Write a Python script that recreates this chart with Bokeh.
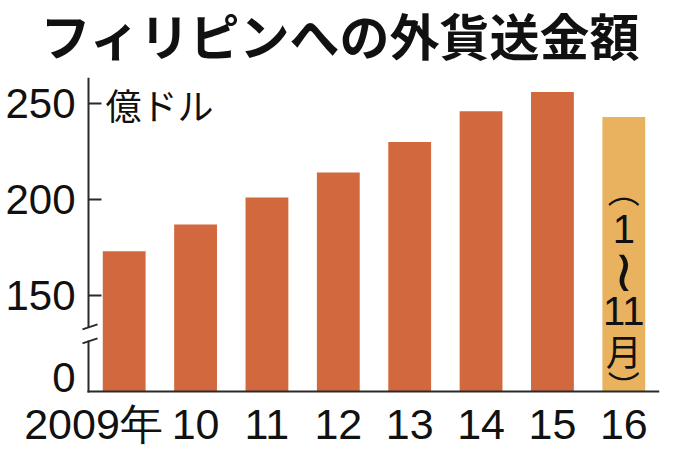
from bokeh.plotting import figure
from bokeh.models import Range1d, FixedTicker, ColumnDataSource, Label
from bokeh.embed import file_html
from bokeh.resources import INLINE

# ---------------- data ----------------
title = "フィリピンへの外貨送金額"
unit_label = "億ドル"
years = [2009, 2010, 2011, 2012, 2013, 2014, 2015, 2016]
remittance = [173, 187, 201, 214, 230, 246, 256, 243]   # 億ドル
partial_year = [False, False, False, False, False, False, False, True]  # 2016 = 1~11月
partial_note = ["︵", "1", "≀", "11", "月", "︶"]     # (1~11月) written vertically
y_ticks = [150, 200, 250]
zero_label = "0"

# ---------------- layout / style ----------------
W, H = 680, 464
FRAME_L, FRAME_R, FRAME_T, FRAME_B = 78, 659, 77, 395
PX_PER_CAT = 71.375
PX_PER_UNIT = 1.92
AXIS_PAD = 10      # px between frame edge and the drawn y axis
BASE_PAD = 4       # px between the baseline and the frame bottom
BASE = 100         # where the broken axis draws value 0
BREAK_AT = 130
DARK = "#D2683E"
LIGHT = "#E9B25E"
AX = "#2a2a2a"
TXT = "#111111"
LAT = "Liberation Sans"
CJK = "Noto Sans CJK JP"
DJV = "DejaVu Sans"

n = len(years)
AX_X = -0.5
x_start = AX_X - AXIS_PAD / PX_PER_CAT
y_start = BASE - BASE_PAD / PX_PER_UNIT
y_end = y_start + (FRAME_B - FRAME_T) / PX_PER_UNIT
px_x = 1 / PX_PER_CAT
px_y = 1 / PX_PER_UNIT

p = figure(width=W, height=H, output_backend="svg", toolbar_location=None,
           x_range=Range1d(x_start, n - 0.5), y_range=Range1d(y_start, y_end),
           min_border_left=FRAME_L, min_border_right=W - FRAME_R,
           min_border_top=FRAME_T, min_border_bottom=H - FRAME_B)
p.outline_line_color = None
p.grid.visible = False
p.background_fill_color = "white"
p.border_fill_color = "white"

# title
p.title.text = title
p.title.text_font = f"{LAT}, {CJK}"
p.title.text_font_size = "50px"
p.title.text_font_style = "bold"
p.title.text_color = TXT
p.title.align = "left"
p.title.vertical_align = "top"
p.title.offset = -38
p.title.standoff = 18

# bars
src = ColumnDataSource(dict(
    x=list(range(n)), top=remittance,
    color=[LIGHT if f else DARK for f in partial_year]))
p.vbar(x="x", top="top", bottom=BASE, width=0.6, fill_color="color",
       line_color=None, source=src)

# y axis: labels from Bokeh's axis, line/ticks drawn in the frame
zero_tick = round(BASE + 14 * px_y, 2)
ya = p.yaxis[0]
ya.ticker = FixedTicker(ticks=[zero_tick] + y_ticks)
ya.major_label_overrides = {zero_tick: zero_label}
ya.axis_line_color = None
ya.major_tick_line_color = None
ya.minor_tick_line_color = None
ya.major_tick_in = 0
ya.major_tick_out = 0
ya.major_label_standoff = 3
ya.major_label_text_font = LAT
ya.major_label_text_font_size = "42px"
ya.major_label_text_color = TXT

# x axis: labels only
first_shift = round(-31 * px_x, 2)
xticks = [first_shift] + list(range(1, n))
xa = p.xaxis[0]
xa.ticker = FixedTicker(ticks=xticks)
xa.major_label_overrides = {t: (f"{yr}年" if i == 0 else f"{yr % 100:02d}")
                            for i, (t, yr) in enumerate(zip(xticks, years))}
xa.axis_line_color = None
xa.major_tick_line_color = None
xa.minor_tick_line_color = None
xa.major_tick_in = 0
xa.major_tick_out = 0
xa.major_label_standoff = 4
xa.major_label_text_font = LAT
xa.major_label_text_font_size = "43px"
xa.major_label_text_color = TXT

# drawn axis lines with break
gap = 6.5 * px_y
p.segment(x0=[AX_X, AX_X], x1=[AX_X, AX_X],
          y0=[BASE - px_y, BREAK_AT + gap], y1=[BREAK_AT - gap, y_end],
          line_color=AX, line_width=2)
p.segment(x0=[AX_X - px_x], x1=[n - 0.5], y0=[BASE], y1=[BASE],
          line_color=AX, line_width=2)
p.segment(x0=[AX_X] * len(y_ticks), x1=[AX_X + 13 * px_x] * len(y_ticks),
          y0=y_ticks, y1=y_ticks, line_color=AX, line_width=2)
for dy in (7, -7):
    yc = BREAK_AT + dy * px_y
    p.segment(x0=[AX_X - 6 * px_x], x1=[AX_X + 9 * px_x],
              y0=[yc - 2.5 * px_y], y1=[yc + 2.5 * px_y],
              line_color=AX, line_width=2)

# unit label
p.add_layout(Label(x=AX_X, y=y_ticks[-1], x_offset=17, text=unit_label,
                   text_baseline="middle", text_font=CJK, text_font_size="36px",
                   text_color=TXT))

# vertical note in the partial-year bar
last = partial_year.index(True)
note_px = [203, 163, 121, 81, 42, 7]           # px above the baseline
note_font = [CJK, LAT, DJV, LAT, CJK, CJK]
note_size = ["32px", "40px", "58px", "40px", "36px", "32px"]
note_src = ColumnDataSource(dict(
    x=[last] * len(partial_note),
    y=[BASE + v * px_y for v in note_px],
    text=partial_note, font=note_font, size=note_size))
p.text(x="x", y="y", text="text", text_font="font",
       text_font_size="size", text_align="center", text_baseline="middle",
       text_color=TXT, source=note_src)

open("out.html", "w").write(file_html(p, INLINE))
